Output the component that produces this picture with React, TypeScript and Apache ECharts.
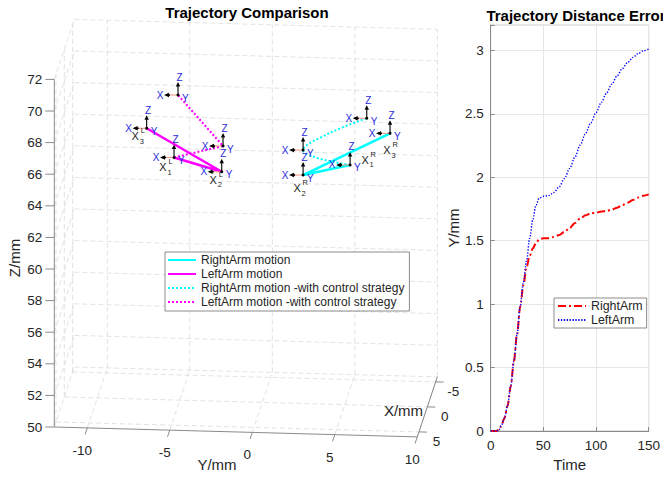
import React, { useEffect, useRef } from "react";
import * as echarts from "echarts";

// ---------------- Data ----------------
const zTicks = [50, 52, 54, 56, 58, 60, 62, 64, 66, 68, 70, 72];
const yTicks = [-10, -5, 0, 5, 10];
const xTicks = [-5, 0, 5];
const xLim = [-6, 6];
const yLim = [-12, 10];
const zLim = [50, 72];

// 3D poses [X, Y, Z] in mm
const rightArm = [[0, 5.32, 65.18], [0, 2.47, 64.46], [0, 7.74, 67.25]];
const leftArm = [[0, -5.35, 65.35], [0, -2.46, 64.53], [0, -7.01, 67.15]];
const rightArmCtrl = [[0, 5.32, 65.18], [0, 2.47, 66.04], [0, 4.1, 67.17], [0, 6.33, 68.16]];
const leftArmCtrl = [[0, -5.35, 65.35], [0, -2.38, 66.16], [0, -5.11, 69.31]];

const frameTags = [["R", "1"], ["R", "2"], ["R", "3"], null, null, ["L", "1"], ["L", "2"], ["L", "3"], null, null];

const time = [0, 5, 8, 10, 13, 16, 19, 22, 25, 28, 31, 34, 37, 40, 43, 46, 50, 55, 60, 65, 70, 75, 80, 85, 90, 95, 100, 105, 110, 115, 120, 125, 130, 135, 140, 145, 150];
const rightErr = [0, 0, 0.01, 0.04, 0.1, 0.2, 0.35, 0.55, 0.76, 0.98, 1.15, 1.29, 1.38, 1.44, 1.48, 1.51, 1.52, 1.52, 1.53, 1.545, 1.57, 1.6, 1.64, 1.675, 1.7, 1.715, 1.72, 1.73, 1.735, 1.745, 1.76, 1.78, 1.8, 1.82, 1.84, 1.855, 1.865];
const leftErr = [0, 0, 0.01, 0.04, 0.1, 0.2, 0.35, 0.55, 0.76, 0.98, 1.17, 1.34, 1.52, 1.67, 1.78, 1.835, 1.85, 1.855, 1.88, 1.925, 1.99, 2.07, 2.16, 2.255, 2.345, 2.43, 2.51, 2.59, 2.665, 2.735, 2.8, 2.857, 2.905, 2.945, 2.975, 2.997, 3.01];

// ---------------- Layout / style ----------------
const FONT = '"Liberation Sans", Arial, Helvetica, sans-serif';
const TXT = "#262626";
const AX = "#8a8a8a";
const GRID3D = "#dadada";
const BLUE_LBL = "#2b2bdb";

// projection of the 3D box
const P0 = [54.3, 427]; // screen of (xLim[1], yLim[0], zLim[0])
const perY = [16.5, 0.45];
const perZ = -15.8;
const perXBack = [1.67, -5];
function proj(x: number, y: number, z: number) {
  const dy = y - yLim[0];
  const dz = z - zLim[0];
  const dx = xLim[1] - x;
  return [P0[0] + dy * perY[0] + dx * perXBack[0], P0[1] + dy * perY[1] + dz * perZ + dx * perXBack[1]];
}
const proj3 = (p: number[]) => proj(p[0], p[1], p[2]);

const framePts = [rightArm[0], rightArm[1], rightArm[2], rightArmCtrl[1], rightArmCtrl[3], leftArm[0], leftArm[1], leftArm[2], leftArmCtrl[1], leftArmCtrl[2]];
const tagOffset: any[] = [[15, -5], [-6, 13], [-3, 17], null, null, [-11, 10], [-8.5, 8], [-11.5, 8], null, null];

function txt(text: string, x: number, y: number, opts: any = {}) {
  const align = opts.align || "center";
  const va = opts.va || "middle";
  return {
    type: "text",
    x,
    y,
    rotation: opts.rotation || 0,
    style: {
      text,
      fill: opts.fill || TXT,
      fontSize: opts.size || 13.5,
      fontFamily: FONT,
      fontWeight: opts.weight || "normal",
      align,
      textAlign: align,
      verticalAlign: va,
      textVerticalAlign: va,
    },
  };
}

function buildOption() {
  const [x0, x1] = xLim;
  const [y0, y1] = yLim;
  const [z0, z1] = zLim;

  const boxSeries = {
    type: "custom",
    xAxisIndex: 0,
    yAxisIndex: 0,
    z: 1,
    silent: true,
    data: [[0, 0]],
    renderItem: (_params: any, api: any) => {
      const C = (x: number, y: number, z: number) => api.coord(proj(x, y, z));
      const ch: any[] = [];
      const seg = (a: number[], b: number[], style: any) =>
        ch.push({ type: "line", shape: { x1: a[0], y1: a[1], x2: b[0], y2: b[1] }, style });
      const gs = { stroke: GRID3D, lineWidth: 0.8, lineDash: [5, 3] };
      zTicks.forEach((z) => {
        seg(C(x0, y0, z), C(x0, y1, z), gs);
        seg(C(x1, y0, z), C(x0, y0, z), gs);
      });
      yTicks.forEach((y) => {
        seg(C(x0, y, z0), C(x0, y, z1), gs);
        seg(C(x1, y, z0), C(x0, y, z0), gs);
      });
      xTicks.forEach((x) => {
        seg(C(x, y0, z0), C(x, y0, z1), gs);
        seg(C(x, y0, z0), C(x, y1, z0), gs);
      });
      const as = { stroke: AX, lineWidth: 1 };
      seg(C(x1, y0, z0), C(x1, y0, z1), as);
      seg(C(x1, y0, z0), C(x1, y1, z0), as);
      seg(C(x1, y1, z0), C(x0, y1, z0), as);
      zTicks.forEach((z) => {
        const p = C(x1, y0, z);
        seg(p, [p[0] - 9, p[1]], as);
        ch.push(txt(String(z), p[0] - 12, p[1], { align: "right" }));
      });
      yTicks.forEach((y) => {
        const p = C(x1, y, z0);
        seg(p, [p[0] - 2.3, p[1] + 6.6], as);
        ch.push(txt(String(y), p[0] - 5, p[1] + 22.5));
      });
      xTicks.forEach((x) => {
        const p = C(x, y1, z0);
        seg(p, [p[0] + 8, p[1] + 0.2], as);
        ch.push(txt(String(x), p[0] + 17.5, p[1] + 9.5));
      });
      ch.push(txt("Y/mm", 217, 464, { size: 15 }));
      ch.push(txt("X/mm", 403.5, 410, { size: 15 }));
      ch.push(txt("Z/mm", 14, 258, { size: 15, rotation: Math.PI / 2 }));
      return { type: "group", children: ch };
    },
  };

  const frameSeries = {
    type: "custom",
    xAxisIndex: 0,
    yAxisIndex: 0,
    z: 6,
    silent: true,
    data: framePts.map(proj3),
    renderItem: (params: any, api: any) => {
      const o = api.coord([api.value(0), api.value(1)]);
      const i = params.dataIndex;
      const ch: any[] = [];
      const line = (a: number[], b: number[], stroke: string, w: number) =>
        ch.push({ type: "line", shape: { x1: a[0], y1: a[1], x2: b[0], y2: b[1] }, style: { stroke, lineWidth: w } });
      line(o, [o[0] - 12, o[1]], "#e9967a", 1);
      line([o[0] - 8, o[1]], [o[0] - 12, o[1]], "#000", 1.6);
      ch.push({ type: "polygon", shape: { points: [[o[0] - 14, o[1]], [o[0] - 9, o[1] - 2.2], [o[0] - 9, o[1] + 2.2]] }, style: { fill: "#000" } });
      line(o, [o[0], o[1] - 9], "#000", 1.1);
      ch.push({ type: "polygon", shape: { points: [[o[0], o[1] - 13], [o[0] - 2.2, o[1] - 8.5], [o[0] + 2.2, o[1] - 8.5]] }, style: { fill: "#000" } });
      ch.push({ type: "circle", shape: { cx: o[0], cy: o[1], r: 1.5 }, style: { fill: "#000" } });
      ch.push(txt("Z", o[0] + 1.5, o[1] - 18, { size: 10, fill: BLUE_LBL }));
      ch.push(txt("X", o[0] - 18, o[1], { size: 10, fill: BLUE_LBL }));
      ch.push(txt("Y", o[0] + 4, o[1] + 3, { size: 10, fill: BLUE_LBL, align: "left" }));
      const tag = frameTags[i];
      const off = tagOffset[i];
      if (tag && off) {
        const cx = o[0] + off[0];
        const cy = o[1] + off[1];
        ch.push(txt("X", cx, cy, { size: 11 }));
        ch.push(txt(tag[0], cx + 5.5, cy - 5.5, { size: 7.5, align: "left" }));
        ch.push(txt(tag[1], cx + 4.5, cy + 5, { size: 7.5, align: "left" }));
      }
      return { type: "group", children: ch };
    },
  };

  const lineBase = { type: "line", xAxisIndex: 0, yAxisIndex: 0, symbol: "none", clip: false, z: 3 };

  return {
    animation: false,
    textStyle: { fontFamily: FONT },
    graphic: [
      txt("Trajectory Comparison", 247, 12, { size: 15, weight: "bold", fill: "#000" }),
      txt("Trajectory Distance Error", 576, 15, { size: 15, weight: "bold", fill: "#000" }),
    ],
    grid: [
      { left: 0, top: 0, width: 663, height: 477, show: false },
      { left: 490.7, top: 25, width: 165.3, height: 406, show: true, borderColor: "#c8c8c8", borderWidth: 1, backgroundColor: "transparent" },
    ],
    xAxis: [
      { gridIndex: 0, type: "value", min: 0, max: 663, show: false },
      {
        gridIndex: 1,
        type: "value",
        min: 0,
        max: 150,
        interval: 50,
        name: "Time",
        nameLocation: "middle",
        nameGap: 24,
        nameTextStyle: { fontSize: 15, color: TXT },
        axisLine: { show: true, onZero: false, lineStyle: { color: AX } },
        axisTick: { show: true, inside: true, length: 4, lineStyle: { color: AX } },
        axisLabel: { fontSize: 13.5, color: TXT, margin: 7 },
        splitLine: { show: true, lineStyle: { color: "#e6e6e6" } },
      },
    ],
    yAxis: [
      { gridIndex: 0, type: "value", min: 0, max: 477, inverse: true, show: false },
      {
        gridIndex: 1,
        type: "value",
        min: 0,
        max: 3.2,
        interval: 0.5,
        name: "Y/mm",
        nameLocation: "middle",
        nameGap: 28,
        nameTextStyle: { fontSize: 15, color: TXT },
        axisLine: { show: true, onZero: false, lineStyle: { color: AX } },
        axisTick: { show: true, inside: true, length: 4, lineStyle: { color: AX } },
        axisLabel: { fontSize: 13.5, color: TXT, margin: 7, formatter: (v: number) => (v > 3.05 ? "" : String(v)) },
        splitLine: { show: true, lineStyle: { color: "#e6e6e6" } },
      },
    ],
    legend: [
      {
        data: ["RightArm motion", "LeftArm motion", "RightArm motion -with control strategy", "LeftArm motion -with control strategy"],
        left: 165,
        top: 252,
        orient: "vertical",
        itemWidth: 28,
        itemHeight: 14,
        itemGap: 2,
        padding: [2, 5, 3, 2],
        borderColor: "#6e6e6e",
        borderWidth: 0.8,
        backgroundColor: "#fff",
        selectedMode: false,
        itemStyle: { opacity: 0 },
        textStyle: { fontSize: 12, color: TXT, fontFamily: FONT },
      },
      {
        data: ["RightArm", "LeftArm"],
        left: 554,
        top: 298,
        orient: "vertical",
        itemWidth: 28,
        itemHeight: 14,
        itemGap: 2,
        padding: [2, 4, 2, 3],
        borderColor: "#6e6e6e",
        borderWidth: 0.8,
        backgroundColor: "#fff",
        selectedMode: false,
        itemStyle: { opacity: 0 },
        textStyle: { fontSize: 12.4, color: TXT, fontFamily: FONT },
      },
    ],
    series: [
      boxSeries,
      { ...lineBase, name: "RightArm motion", data: rightArm.map(proj3), lineStyle: { color: "#00ffff", width: 2.5 }, itemStyle: { color: "#00ffff" } },
      { ...lineBase, name: "LeftArm motion", data: leftArm.map(proj3), lineStyle: { color: "#ff00ff", width: 2.5 }, itemStyle: { color: "#ff00ff" } },
      { ...lineBase, name: "RightArm motion -with control strategy", data: rightArmCtrl.map(proj3), smooth: 0.4, lineStyle: { color: "#00ffff", width: 2, type: [2, 2] }, itemStyle: { color: "#00ffff" } },
      { ...lineBase, name: "LeftArm motion -with control strategy", data: leftArmCtrl.map(proj3), lineStyle: { color: "#ff00ff", width: 2, type: [2, 2] }, itemStyle: { color: "#ff00ff" } },
      frameSeries,
      {
        type: "line",
        name: "RightArm",
        xAxisIndex: 1,
        yAxisIndex: 1,
        symbol: "none",
        smooth: 0.3,
        smoothMonotone: "x",
        data: time.map((t, i) => [t, rightErr[i]]),
        lineStyle: { color: "#ff0000", width: 2, type: [8, 3, 2, 3] },
        itemStyle: { color: "#ff0000" },
        z: 4,
      },
      {
        type: "line",
        name: "LeftArm",
        xAxisIndex: 1,
        yAxisIndex: 1,
        symbol: "none",
        smooth: 0.3,
        smoothMonotone: "x",
        data: time.map((t, i) => [t, leftErr[i]]),
        lineStyle: { color: "#0000ff", width: 1.4, type: [1.3, 1.6] },
        itemStyle: { color: "#0000ff" },
        z: 5,
      },
    ],
  };
}

export default function App() {
  const ref = useRef<HTMLDivElement>(null);
  useEffect(() => {
    const chart = echarts.init(ref.current as HTMLDivElement, null, { renderer: "svg" });
    chart.setOption(buildOption() as any);
    return () => chart.dispose();
  }, []);
  return (
    <div
      ref={ref}
      style={{ position: "fixed", left: 0, top: 0, width: 663, height: 477, background: "#fff" }}
    />
  );
}
